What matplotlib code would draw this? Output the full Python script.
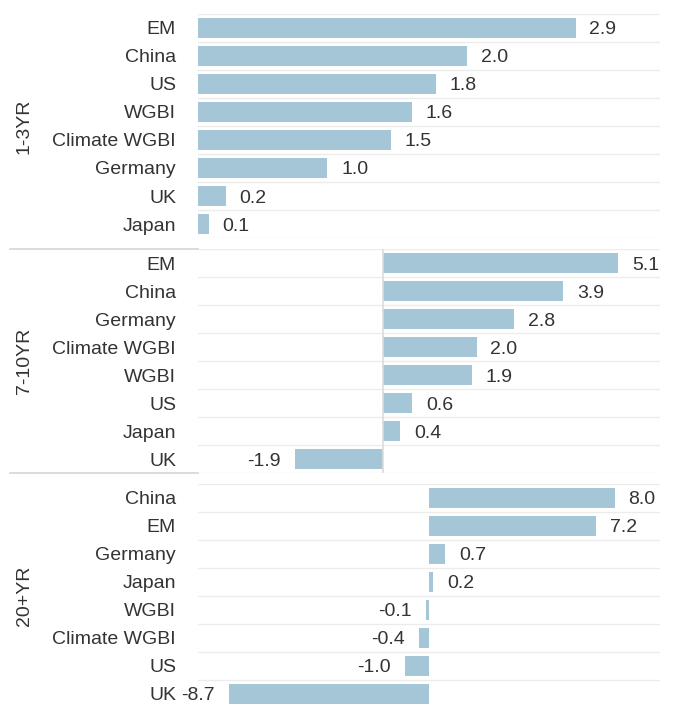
import matplotlib
matplotlib.use("Agg")
import matplotlib.pyplot as plt
from matplotlib.lines import Line2D

plt.rcParams["font.family"] = ["Liberation Sans", "DejaVu Sans"]

# data (bar lengths; labels shown to 1 dp)
tenors = ["1-3YR", "7-10YR", "20+YR"]

cats_short = ["EM", "China", "US", "WGBI", "Climate WGBI", "Germany", "UK", "Japan"]
vals_short = [2.86, 2.04, 1.80, 1.62, 1.46, 0.98, 0.21, 0.08]

cats_mid = ["EM", "China", "Germany", "Climate WGBI", "WGBI", "US", "Japan", "UK"]
vals_mid = [5.10, 3.90, 2.84, 2.03, 1.93, 0.63, 0.37, -1.90]

cats_long = ["China", "EM", "Germany", "Japan", "WGBI", "Climate WGBI", "US", "UK"]
vals_long = [8.04, 7.24, 0.70, 0.17, -0.13, -0.43, -1.04, -8.66]

panels = [(cats_short, vals_short), (cats_mid, vals_mid), (cats_long, vals_long)]
xlims = [(0, 3.5), (-4, 6), (-10, 10)]
zero_line = [False, True, False]

W, H = 680, 706
BAR = "#a5c6d6"
TXT = "#333333"
GRID = "#ececec"
FS = 14

fig = plt.figure(figsize=(W / 100, H / 100), dpi=100)

tops = [14, 249, 484]
for k, ((cats, vals), top, xl) in enumerate(zip(panels, tops, xlims)):
    ax = fig.add_axes([198 / W, 1 - (top + 224) / H, 462 / W, 224 / H])
    ypos = [i + 0.5 for i in range(len(cats))]
    ax.barh(ypos, vals, height=0.68, color=BAR, zorder=2)
    ax.set_xlim(*xl)
    ax.set_ylim(len(cats), 0)
    for y in range(len(cats) + 1):
        ax.axhline(y, color=GRID, lw=1, zorder=1)
    if zero_line[k]:
        ax.axvline(0, color="#dcdcdc", lw=1.2, zorder=3)
    for y, v in zip(ypos, vals):
        ax.annotate(f"{v:.1f}", xy=(v, y), xytext=(10 if v >= 0 else -10.5, 0),
                    textcoords="offset points", ha="left" if v >= 0 else "right",
                    va="center_baseline", fontsize=FS, color=TXT)
    ax.set_yticks(ypos)
    ax.set_yticklabels(cats, fontsize=FS, color=TXT)
    ax.tick_params(axis="y", length=0, pad=15.8)
    ax.set_xticks([])
    for s in ax.spines.values():
        s.set_visible(False)
    ax.patch.set_alpha(0)

    fig.text(24 / W, 1 - (top + 112) / H, tenors[k], rotation=90,
             ha="center", va="center", fontsize=FS, color=TXT)

# row dividers in the label column
for yy in [249, 473]:
    fig.add_artist(Line2D([10 / W, 198 / W], [1 - yy / H, 1 - yy / H],
                          color="#d6d6d6", lw=1.2))

fig.savefig("out.png", dpi=100)
